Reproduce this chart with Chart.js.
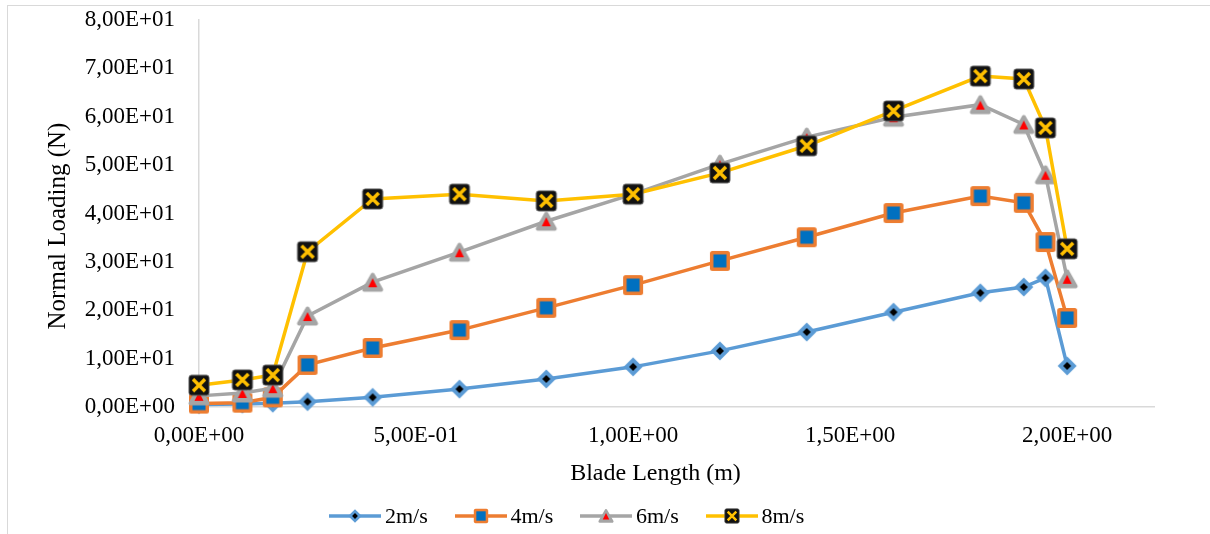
<!DOCTYPE html>
<html>
<head>
<meta charset="utf-8">
<title>Normal Loading vs Blade Length</title>
<script src="https://cdn.jsdelivr.net/npm/chart.js@4.4.1/dist/chart.umd.min.js"></script>
<style>
    html, body { margin: 0; padding: 0; background: #fff; }
    #wrap { position: relative; width: 1210px; height: 534px; overflow: hidden; }
    #frame { position: absolute; left: 7px; top: 5px; width: 1220px; height: 540px; border: 1.5px solid #D9D9D9; box-sizing: border-box; }
    #chart { position: absolute; left: 0; top: 0; }
    #legend { position: absolute; left: 329px; top: 503px; display: flex; font-family: "Liberation Serif", "Times New Roman", serif; font-size: 22px; color: #000; }
    .item { display: flex; align-items: center; width: 125.5px; height: 26px; }
    .item span { margin-left: 4px; }
</style>
</head>
<body>
<div id="wrap">
    <div id="frame"></div>
    <canvas id="chart" width="1210" height="534"></canvas>
    <div id="legend"></div>
</div>
<script>
/* ==========================================================================
   DATA
   ========================================================================== */
const bladeLength = [0, 0.1, 0.17, 0.25, 0.4, 0.6, 0.8, 1.0, 1.2, 1.4, 1.6, 1.8, 1.9, 1.95, 2.0];

const load2 = [0.5, 0.6, 0.8, 1.1, 2.0, 3.7, 5.8, 8.3, 11.6, 15.5, 19.6, 23.6, 24.8, 26.7, 8.5];
const load4 = [0.7, 0.9, 2.0, 8.7, 12.2, 15.9, 20.5, 25.2, 30.2, 35.1, 40.1, 43.6, 42.2, 34.1, 18.4];
const load6 = [2.3, 2.9, 3.9, 18.8, 25.8, 32.0, 38.4, 44.0, 50.2, 55.8, 59.9, 62.5, 58.4, 48.0, 26.5];
const load8 = [4.5, 5.6, 6.6, 32.1, 43.0, 44.0, 42.6, 44.0, 48.4, 54.0, 61.2, 68.4, 67.8, 57.7, 32.7];

const seriesNames = ["2m/s", "4m/s", "6m/s", "8m/s"];
const yTicks = { min: 0, max: 80, step: 10 };
const xTicks = { min: 0, max: 2.2, step: 0.5 };

const FONT = "'Liberation Serif', 'Times New Roman', serif";
const COLORS = {
    blue: "#5B9BD5",
    orange: "#ED7D31",
    gray: "#A5A5A5",
    yellow: "#FFC000"
};

/* ==========================================================================
   MARKERS (Excel-like)
   ========================================================================== */
function drawMarker(ctx, kind, cx, cy, s) {
    ctx.save();
    ctx.translate(cx, cy);
    ctx.scale(s, s);
    if (kind === "diamond") {
        ctx.fillStyle = COLORS.blue;
        ctx.beginPath();
        ctx.moveTo(0, -9.5); ctx.lineTo(9.5, 0); ctx.lineTo(0, 9.5); ctx.lineTo(-9.5, 0);
        ctx.closePath(); ctx.fill();
        ctx.fillStyle = "#000";
        ctx.beginPath();
        ctx.moveTo(0, -4); ctx.lineTo(4, 0); ctx.lineTo(0, 4); ctx.lineTo(-4, 0);
        ctx.closePath(); ctx.fill();
    } else if (kind === "square") {
        ctx.fillStyle = COLORS.orange;
        ctx.beginPath();
        ctx.roundRect(-10, -10, 20, 20, 2.5);
        ctx.fill();
        ctx.fillStyle = "#0070C0";
        ctx.fillRect(-6.5, -6.5, 13, 13);
    } else if (kind === "triangle") {
        ctx.fillStyle = COLORS.gray;
        ctx.strokeStyle = COLORS.gray;
        ctx.lineWidth = 4;
        ctx.lineJoin = "round";
        ctx.beginPath();
        ctx.moveTo(0, -7.5); ctx.lineTo(8.5, 7.5); ctx.lineTo(-8.5, 7.5);
        ctx.closePath(); ctx.fill(); ctx.stroke();
        ctx.fillStyle = "#FF0000";
        ctx.beginPath();
        ctx.moveTo(0, -4); ctx.lineTo(4.5, 5); ctx.lineTo(-4.5, 5);
        ctx.closePath(); ctx.fill();
    } else if (kind === "cross") {
        ctx.fillStyle = "#111";
        ctx.strokeStyle = "#555";
        ctx.lineWidth = 1;
        ctx.beginPath();
        ctx.roundRect(-10, -10, 20, 20, 2.5);
        ctx.fill(); ctx.stroke();
        ctx.strokeStyle = COLORS.yellow;
        ctx.lineWidth = 3.5;
        ctx.beginPath();
        ctx.moveTo(-6, -6); ctx.lineTo(6, 6);
        ctx.moveTo(6, -6); ctx.lineTo(-6, 6);
        ctx.stroke();
    }
    ctx.restore();
}

function makeMarker(kind) {
    const c = document.createElement("canvas");
    c.width = 26;
    c.height = 26;
    drawMarker(c.getContext("2d"), kind, 13, 13, 1);
    return c;
}

function sciLabel(v) {
    if (Math.abs(v) < 1e-12) return "0,00E+00";
    const e = Math.floor(Math.log10(Math.abs(v)) + 1e-9);
    const m = v / Math.pow(10, e);
    return m.toFixed(2).replace(".", ",") + "E" + (e < 0 ? "-" : "+") + String(Math.abs(e)).padStart(2, "0");
}

/* ==========================================================================
   CHART
   ========================================================================== */
const seriesDefs = [
    { name: seriesNames[0], data: load2, color: COLORS.blue, kind: "diamond", order: 4 },
    { name: seriesNames[1], data: load4, color: COLORS.orange, kind: "square", order: 3 },
    { name: seriesNames[2], data: load6, color: COLORS.gray, kind: "triangle", order: 2 },
    { name: seriesNames[3], data: load8, color: COLORS.yellow, kind: "cross", order: 1 }
];

const datasets = seriesDefs.map(def => {
    const marker = makeMarker(def.kind);
    return {
        label: def.name,
        data: bladeLength.map((x, i) => ({ x: x, y: def.data[i] })),
        borderColor: def.color,
        backgroundColor: def.color,
        borderWidth: 3.5,
        tension: 0,
        pointStyle: marker,
        pointHoverStyle: marker,
        order: def.order,
        clip: false
    };
});

const tickFont = { family: FONT, size: 23 };

// trailing spaces nudge the axis titles off-centre, as in the original
new Chart(document.getElementById("chart").getContext("2d"), {
    type: "line",
    data: { datasets: datasets },
    options: {
        responsive: false,
        animation: false,
        layout: { padding: { left: 0, top: 20, right: 56, bottom: 0 } },
        plugins: {
            legend: { display: false },
            tooltip: { enabled: false }
        },
        scales: {
            x: {
                type: "linear",
                min: xTicks.min,
                max: xTicks.max,
                afterFit: scale => {
                    scale.height = 127;
                    scale.paddingLeft = 0;
                },
                grid: { display: false, drawTicks: false },
                border: { display: true, color: "#D9D9D9", width: 1.5 },
                ticks: {
                    stepSize: xTicks.step,
                    padding: 15,
                    maxRotation: 0,
                    autoSkip: false,
                    color: "#000",
                    font: tickFont,
                    callback: v => {
                        const k = v / xTicks.step;
                        return Math.abs(k - Math.round(k)) < 1e-6 ? sciLabel(v) : "";
                    }
                },
                title: {
                    display: true,
                    text: "Blade Length (m)       ",
                    color: "#000",
                    font: { family: FONT, size: 24 },
                    padding: { top: 0, bottom: 46 }
                }
            },
            y: {
                min: yTicks.min,
                max: yTicks.max,
                afterFit: scale => {
                    scale.width = 199;
                    scale.paddingTop = 0;
                    scale.paddingBottom = 0;
                },
                grid: { display: false, drawTicks: false },
                border: { display: true, color: "#D9D9D9", width: 1.5 },
                ticks: {
                    stepSize: yTicks.step,
                    padding: 24,
                    color: "#000",
                    font: tickFont,
                    callback: v => sciLabel(v)
                },
                title: {
                    display: true,
                    text: "Normal Loading (N)    ",
                    color: "#000",
                    font: { family: FONT, size: 25 },
                    padding: { top: 43, bottom: 0 }
                }
            }
        }
    }
});

/* ==========================================================================
   LEGEND
   ========================================================================== */
const legendBox = document.getElementById("legend");
seriesDefs.forEach(def => {
    const item = document.createElement("div");
    item.className = "item";
    const icon = document.createElement("canvas");
    icon.width = 52;
    icon.height = 24;
    const ictx = icon.getContext("2d");
    ictx.strokeStyle = def.color;
    ictx.lineWidth = 3.5;
    ictx.beginPath();
    ictx.moveTo(0, 12);
    ictx.lineTo(52, 12);
    ictx.stroke();
    drawMarker(ictx, def.kind, 26, 12, 0.72);
    const text = document.createElement("span");
    text.textContent = def.name;
    item.appendChild(icon);
    item.appendChild(text);
    legendBox.appendChild(item);
});
</script>
</body>
</html>
